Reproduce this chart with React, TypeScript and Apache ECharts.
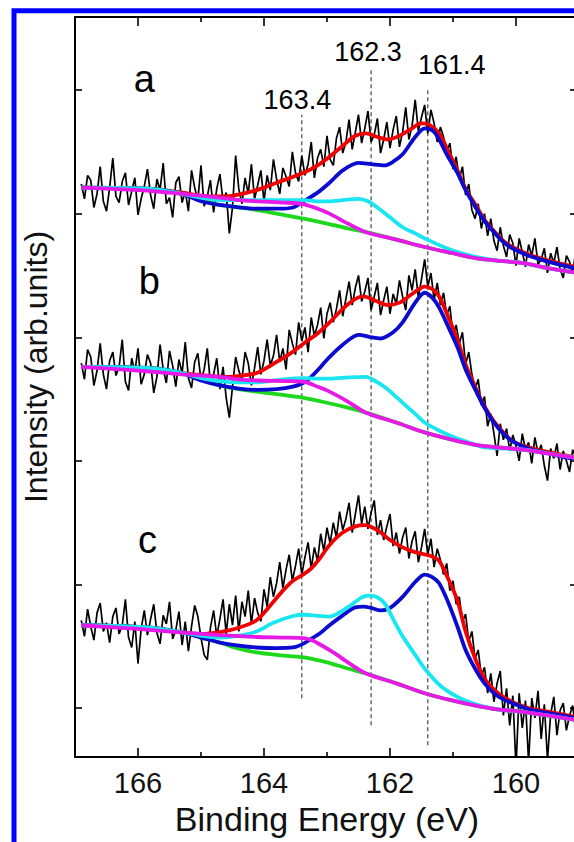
import React, { useEffect, useRef } from "react";
import * as echarts from "echarts";

// Binding energy grid (eV) of the measured spectra
const energies = [166.9,166.85,166.8,166.75,166.7,166.65,166.6,166.55,166.5,166.45,166.4,166.35,166.3,166.25,166.2,166.15,166.1,166.05,166,165.95,165.9,165.85,165.8,165.75,165.7,165.65,165.6,165.55,165.5,165.45,165.4,165.35,165.3,165.25,165.2,165.15,165.1,165.05,165,164.95,164.9,164.85,164.8,164.75,164.7,164.65,164.6,164.55,164.5,164.45,164.4,164.35,164.3,164.25,164.2,164.15,164.1,164.05,164,163.95,163.9,163.85,163.8,163.75,163.7,163.65,163.6,163.55,163.5,163.45,163.4,163.35,163.3,163.25,163.2,163.15,163.1,163.05,163,162.95,162.9,162.85,162.8,162.75,162.7,162.65,162.6,162.55,162.5,162.45,162.4,162.35,162.3,162.25,162.2,162.15,162.1,162.05,162,161.95,161.9,161.85,161.8,161.75,161.7,161.65,161.6,161.55,161.5,161.45,161.4,161.35,161.3,161.25,161.2,161.15,161.1,161.05,161,160.95,160.9,160.85,160.8,160.75,160.7,160.65,160.6,160.55,160.5,160.45,160.4,160.35,160.3,160.25,160.2,160.15,160.1,160.05,160,159.95,159.9,159.85,159.8,159.75,159.7,159.65,159.6,159.55,159.5,159.45,159.4,159.35,159.3,159.25,159.2,159.15,159.1,159.05,159];

// Raw (noisy) intensities, offset spectra a, b, c
const aRaw = [4.24,4.12,4.31,4.27,4.05,4.16,4.38,4.10,4.02,4.21,
4.45,4.14,4.09,4.26,4.33,4.07,4.18,4.29,3.99,4.12,
4.22,4.36,4.15,4.04,4.28,4.19,4.41,4.08,4.13,3.97,
4.25,4.30,4.09,4.18,4.02,4.35,4.21,4.11,4.39,4.06,
4.14,4.27,4.01,4.20,4.32,4.10,4.17,3.84,4.05,4.47,
4.20,4.08,4.29,4.16,4.40,4.12,4.23,4.35,4.10,4.31,
4.19,4.44,4.28,4.16,4.37,4.30,4.22,4.50,4.33,4.26,
4.47,4.31,4.40,4.58,4.29,4.45,4.52,4.38,4.63,4.44,
4.39,4.61,4.70,4.49,4.58,4.76,4.52,4.66,4.80,4.57,
4.69,4.83,4.58,4.64,4.77,4.49,4.60,4.74,4.53,4.68,
4.79,4.54,4.66,4.86,4.60,4.71,4.92,4.67,4.78,4.88,
4.65,4.84,4.73,4.58,4.70,4.62,4.50,4.57,4.36,4.46,
4.28,4.38,4.15,4.24,4.03,3.96,4.08,3.88,4.00,3.82,
3.96,3.78,3.70,3.89,3.74,3.65,3.83,3.76,3.58,3.80,
3.69,3.57,3.75,3.66,3.80,3.59,3.63,3.72,3.52,3.68,
3.60,3.73,3.55,3.48,3.66,3.61,3.52,3.70,3.57];

const bRaw = [2.79,2.66,2.90,2.84,2.61,2.73,2.95,2.70,2.58,2.81,
2.88,2.69,2.76,2.98,2.64,2.57,2.83,2.72,2.91,2.62,
2.70,2.86,2.79,2.55,2.68,2.94,2.74,2.63,2.89,2.77,
2.60,2.82,2.71,2.96,2.67,2.59,2.80,2.87,2.65,2.74,
2.91,2.62,2.70,2.83,2.58,2.76,2.51,2.35,2.60,2.84,
2.73,2.66,2.88,2.79,2.61,2.75,2.92,2.70,2.81,2.98,
2.77,2.85,3.02,2.80,2.91,2.74,3.06,2.95,2.86,3.12,
2.97,3.08,2.88,3.16,3.01,3.10,3.24,2.99,3.19,3.28,
3.12,3.23,3.38,3.17,3.31,3.45,3.26,3.40,3.50,3.29,
3.37,3.48,3.22,3.33,3.44,3.18,3.30,3.41,3.19,3.35,
3.27,3.46,3.33,3.22,3.50,3.38,3.55,3.32,3.47,3.63,
3.41,3.52,3.30,3.44,3.26,3.36,3.18,3.25,3.02,3.10,
2.95,3.04,2.78,2.88,2.70,2.58,2.66,2.45,2.52,2.28,
2.38,2.22,2.04,2.30,2.17,2.26,2.08,2.21,2.12,2.00,
2.22,2.09,2.15,1.98,2.19,2.06,2.13,1.96,1.84,2.10,
2.02,2.14,1.93,2.08,2.00,1.91,2.09,2.03,1.94];

const cRaw = [0.71,0.58,0.80,0.66,0.55,0.77,0.85,0.62,0.69,0.53,
0.74,0.81,0.60,0.67,0.88,0.57,0.49,0.70,0.36,0.64,
0.79,0.59,0.72,0.84,0.61,0.52,0.75,0.68,0.86,0.56,
0.63,0.78,0.51,0.70,0.46,0.66,0.83,0.74,0.57,0.43,
0.39,0.65,0.79,0.58,0.72,0.88,0.60,0.84,0.67,0.91,
0.62,0.86,0.74,0.95,0.68,0.89,0.77,0.70,0.96,0.82,
1.06,0.90,1.01,1.18,0.97,1.12,1.24,1.03,1.15,1.29,
1.08,1.22,1.34,1.13,1.30,1.19,1.41,1.27,1.46,1.33,
1.50,1.38,1.59,1.44,1.53,1.66,1.42,1.57,1.72,1.49,
1.63,1.45,1.58,1.68,1.40,1.52,1.36,1.47,1.57,1.31,
1.42,1.25,1.38,1.46,1.21,1.35,1.43,1.18,1.30,1.45,
1.24,1.37,1.14,1.29,1.20,1.08,1.17,0.95,1.03,0.84,
0.90,0.70,0.76,0.54,0.62,0.40,0.47,0.26,0.33,0.12,
0.28,0.05,0.20,0.30,-0.06,0.16,-0.14,0.10,-0.48,0.12,
-0.16,0.06,-0.44,0.08,-0.08,0.14,-0.25,0.03,-0.42,-0.05,
0.09,-0.22,-0.02,0.04,-0.18,-0.06,0.02,-0.20,-0.10];

// Fitted curves [energy, intensity]
const aGreen = [[166.9,4.21],[165.8,4.20],[165.3,4.16],[165.0,4.11],[164.7,4.07],[164.4,4.05],[164.12,4.03],[163.8,4.00],[163.37,3.96],[163.0,3.92],[162.67,3.88],[162.38,3.85],[161.9,3.79],[161.45,3.73],[161.0,3.68],[160.64,3.64],[160.3,3.62],[159.88,3.60],[159.5,3.56],[159.0,3.52]];
const aMagenta = [[166.9,4.21],[166.0,4.19],[165.5,4.17],[165.1,4.15],[164.7,4.13],[164.4,4.11],[164.1,4.10],[163.7,4.09],[163.4,4.08],[163.2,4.05],[162.96,4.0],[162.67,3.92],[162.38,3.85],[161.9,3.79],[161.45,3.73],[161.0,3.68],[160.64,3.64],[160.3,3.62],[159.88,3.60],[159.5,3.56],[159.0,3.52]];
const aCyan = [[166.9,4.21],[165.8,4.20],[165.3,4.16],[165.0,4.13],[164.7,4.11],[164.4,4.11],[164.12,4.11],[163.7,4.11],[163.37,4.11],[163.15,4.10],[162.96,4.10],[162.75,4.11],[162.5,4.12],[162.35,4.10],[162.2,4.05],[162.0,3.97],[161.8,3.89],[161.6,3.84],[161.45,3.80],[161.1,3.72],[160.8,3.67],[160.64,3.65],[160.3,3.62],[159.88,3.60],[159.5,3.56],[159.0,3.52]];
const aBlue = [[166.9,4.21],[165.8,4.20],[165.3,4.16],[165.0,4.10],[164.7,4.07],[164.4,4.05],[164.12,4.04],[163.8,4.04],[163.54,4.05],[163.37,4.10],[163.15,4.17],[162.96,4.25],[162.75,4.35],[162.5,4.41],[162.3,4.40],[162.09,4.39],[161.95,4.42],[161.8,4.48],[161.6,4.62],[161.45,4.69],[161.32,4.67],[161.22,4.60],[161.1,4.48],[160.93,4.33],[160.8,4.19],[160.64,4.05],[160.5,3.94],[160.35,3.85],[160.2,3.77],[160.06,3.72],[159.8,3.66],[159.48,3.61],[159.08,3.56],[159.0,3.55]];
const aRed = [[166.9,4.21],[165.8,4.20],[165.3,4.17],[164.9,4.14],[164.59,4.14],[164.35,4.16],[164.12,4.19],[163.8,4.25],[163.37,4.33],[163.15,4.39],[162.96,4.46],[162.75,4.55],[162.55,4.63],[162.38,4.65],[162.2,4.62],[162.03,4.60],[161.85,4.63],[161.65,4.69],[161.51,4.73],[161.38,4.72],[161.22,4.65],[161.1,4.53],[160.93,4.35],[160.8,4.20],[160.64,4.07],[160.5,3.95],[160.35,3.86],[160.2,3.78],[160.06,3.73],[159.8,3.67],[159.48,3.62],[159.08,3.57],[159.0,3.56]];

const bGreen = [[166.9,2.76],[165.8,2.75],[165.3,2.71],[165.0,2.66],[164.7,2.61],[164.4,2.58],[164.12,2.56],[163.8,2.54],[163.37,2.51],[163.0,2.47],[162.67,2.43],[162.38,2.39],[161.9,2.31],[161.45,2.23],[161.0,2.17],[160.64,2.13],[160.3,2.11],[159.88,2.09],[159.5,2.06],[159.0,2.02]];
const bMagenta = [[166.9,2.76],[166.0,2.73],[165.3,2.70],[164.7,2.68],[164.4,2.66],[164.1,2.65],[163.7,2.645],[163.37,2.64],[163.15,2.60],[162.96,2.56],[162.67,2.48],[162.38,2.39],[161.9,2.31],[161.45,2.23],[161.0,2.17],[160.64,2.13],[160.3,2.11],[159.88,2.09],[159.5,2.06],[159.0,2.02]];
const bCyan = [[166.9,2.76],[165.8,2.75],[165.3,2.71],[165.0,2.67],[164.7,2.645],[164.4,2.635],[164.12,2.635],[163.7,2.66],[163.37,2.67],[163.15,2.665],[162.96,2.665],[162.65,2.675],[162.38,2.68],[162.25,2.65],[162.09,2.60],[161.95,2.54],[161.8,2.47],[161.6,2.38],[161.45,2.31],[161.2,2.24],[160.93,2.18],[160.7,2.14],[160.5,2.11],[159.88,2.09],[159.5,2.06],[159.0,2.02]];
const bBlue = [[166.9,2.76],[165.8,2.75],[165.3,2.71],[165.0,2.65],[164.7,2.61],[164.4,2.585],[164.12,2.575],[163.8,2.58],[163.54,2.60],[163.38,2.63],[163.25,2.68],[163.1,2.76],[162.96,2.84],[162.75,2.94],[162.5,3.02],[162.3,3.00],[162.15,2.99],[161.95,3.04],[161.8,3.12],[161.6,3.28],[161.45,3.36],[161.33,3.32],[161.22,3.24],[161.08,3.09],[160.93,2.92],[160.8,2.74],[160.64,2.57],[160.5,2.43],[160.35,2.31],[160.2,2.22],[160.06,2.16],[159.8,2.10],[159.48,2.06],[159.08,2.02],[159.0,2.02]];
const bRed = [[166.9,2.76],[165.8,2.75],[165.3,2.71],[164.9,2.69],[164.59,2.68],[164.35,2.69],[164.12,2.71],[163.8,2.80],[163.55,2.88],[163.37,2.95],[163.15,3.03],[162.96,3.12],[162.75,3.23],[162.55,3.31],[162.42,3.33],[162.25,3.30],[162.03,3.26],[161.85,3.28],[161.65,3.35],[161.45,3.41],[161.33,3.39],[161.22,3.33],[161.08,3.17],[160.93,2.98],[160.8,2.78],[160.64,2.59],[160.5,2.44],[160.35,2.32],[160.2,2.23],[160.06,2.16],[159.8,2.11],[159.48,2.07],[159.08,2.03],[159.0,2.02]];

const cGreen = [[166.9,0.67],[165.8,0.65],[165.28,0.61],[165.0,0.57],[164.7,0.53],[164.4,0.48],[164.12,0.45],[163.8,0.43],[163.37,0.41],[163.0,0.37],[162.67,0.32],[162.38,0.28],[161.9,0.20],[161.45,0.12],[161.0,0.06],[160.64,0.02],[160.3,-0.01],[159.88,-0.03],[159.5,-0.06],[159.0,-0.10]];
const cMagenta = [[166.9,0.67],[166.0,0.64],[165.28,0.61],[164.7,0.59],[164.12,0.575],[163.7,0.57],[163.37,0.565],[163.25,0.55],[163.13,0.52],[162.9,0.45],[162.67,0.37],[162.38,0.28],[161.9,0.20],[161.45,0.12],[161.0,0.06],[160.64,0.02],[160.3,-0.01],[159.88,-0.03],[159.5,-0.06],[159.0,-0.10]];
const cCyan = [[166.9,0.67],[165.8,0.65],[165.28,0.61],[165.0,0.585],[164.7,0.57],[164.4,0.585],[164.12,0.62],[163.85,0.69],[163.54,0.745],[163.35,0.755],[163.15,0.745],[162.96,0.74],[162.78,0.78],[162.6,0.84],[162.45,0.895],[162.35,0.91],[162.22,0.90],[162.09,0.85],[161.95,0.72],[161.8,0.58],[161.6,0.43],[161.45,0.32],[161.2,0.18],[160.93,0.09],[160.64,0.03],[160.3,-0.01],[159.88,-0.03],[159.5,-0.06],[159.0,-0.10]];
const cBlue = [[166.9,0.67],[165.8,0.65],[165.28,0.61],[165.0,0.57],[164.7,0.53],[164.4,0.505],[164.12,0.49],[163.8,0.485],[163.54,0.49],[163.38,0.52],[163.25,0.56],[163.1,0.61],[162.96,0.67],[162.75,0.75],[162.55,0.815],[162.42,0.82],[162.3,0.81],[162.15,0.79],[162.0,0.81],[161.8,0.90],[161.6,1.02],[161.45,1.08],[161.33,1.06],[161.22,1.01],[161.08,0.86],[160.93,0.66],[160.8,0.47],[160.64,0.31],[160.5,0.20],[160.35,0.12],[160.2,0.07],[160.06,0.04],[159.8,-0.01],[159.48,-0.04],[159.08,-0.08],[159.0,-0.09]];
const cRed = [[166.9,0.67],[165.8,0.65],[165.28,0.61],[165.0,0.60],[164.7,0.615],[164.4,0.65],[164.12,0.71],[163.85,0.86],[163.7,0.95],[163.54,1.03],[163.38,1.08],[163.25,1.13],[163.1,1.22],[162.96,1.32],[162.75,1.42],[162.55,1.47],[162.4,1.48],[162.2,1.44],[162.0,1.36],[161.8,1.30],[161.65,1.27],[161.51,1.25],[161.35,1.23],[161.22,1.19],[161.08,1.05],[160.93,0.87],[160.8,0.62],[160.64,0.39],[160.5,0.24],[160.35,0.15],[160.2,0.09],[160.06,0.05],[159.8,0.0],[159.48,-0.03],[159.08,-0.07],[159.0,-0.08]];

// Peak reference lines
const peakEnergies = [163.4, 162.3, 161.4];
const peakLineTop = [4.80, 5.16, 5.02];
const peakLineBottom = [0.08, -0.14, -0.30];
const peakLabels = ["163.4", "162.3", "161.4"];
const peakLabelE = [163.47, 162.35, 161.02];
const peakLabelV = [4.92, 5.31, 5.2];

// Panel letters
const panelLabels = ["a", "b", "c"];
const panelLabelE = [165.9, 165.82, 165.85];
const panelLabelV = [5.09, 3.455, 1.36];

// Axis ticks
const xMajorTicks = [160, 162, 164, 166];
const xMinorTicks = [161, 163, 165];
const yTicks = [0, 1, 2, 3, 4, 5];
const X_MIN = 159, X_MAX = 167;
const Y_MIN = -0.396, Y_MAX = 5.591;

const FONT = "'Liberation Sans', Arial, Helvetica, sans-serif";
const TXT = "#111111";

export default function App() {
  const ref = useRef<HTMLDivElement>(null);
  useEffect(() => {
    const chart = echarts.init(ref.current as HTMLDivElement, null, { renderer: "svg" });
    const raw = (ys: number[]) => ys.map((y, i) => [energies[i], y]);

    const fit = (data: number[][], color: string) => ({
      type: "line",
      data,
      showSymbol: false,
      symbol: "none",
      smooth: 0.3,
      lineStyle: { color, width: 3.8 },
      silent: true,
      z: 3,
    });
    const rawSeries = (ys: number[]) => ({
      type: "line",
      data: raw(ys),
      showSymbol: false,
      symbol: "none",
      lineStyle: { color: "#000", width: 1.7 },
      silent: true,
      z: 2,
    });

    const dashed = peakEnergies.map((e, i) => ({
      type: "line",
      data: [[e, peakLineBottom[i]], [e, peakLineTop[i]]],
      showSymbol: false,
      symbol: "none",
      lineStyle: { color: "#333", width: 1.1, type: [4, 3] },
      silent: true,
      z: 1,
    }));

    const spectra = [
      { raw: aRaw, red: aRed, green: aGreen, blue: aBlue, cyan: aCyan, magenta: aMagenta },
      { raw: bRaw, red: bRed, green: bGreen, blue: bBlue, cyan: bCyan, magenta: bMagenta },
      { raw: cRaw, red: cRed, green: cGreen, blue: cBlue, cyan: cCyan, magenta: cMagenta },
    ];
    const specSeries: any[] = [];
    spectra.forEach((s) => {
      specSeries.push(rawSeries(s.raw));
      specSeries.push(fit(s.red, "#f00000"));
      specSeries.push(fit(s.green, "#1ed81e"));
      specSeries.push(fit(s.blue, "#0a0ad0"));
      specSeries.push(fit(s.cyan, "#19e6f0"));
      specSeries.push(fit(s.magenta, "#e619e6"));
    });

    const labelSeries = (names: string[], es: number[], vs: number[], size: number) => ({
      type: "scatter",
      data: names.map((n, i) => ({ name: n, value: [es[i], vs[i]] })),
      symbolSize: 2,
      itemStyle: { color: "rgba(255,255,255,0)", opacity: 1 },
      silent: true,
      z: 5,
      label: {
        show: true,
        position: "inside",
        formatter: "{b}",
        color: "#000",
        opacity: 1,
        fontSize: size,
        fontFamily: FONT,
        textBorderWidth: 0,
      },
    });

    const xBase = {
      type: "value",
      min: X_MIN,
      max: X_MAX,
      interval: 1,
      inverse: true,
      splitLine: { show: false },
    };
    const yBase = {
      type: "value",
      min: Y_MIN,
      max: Y_MAX,
      splitLine: { show: false },
      axisLabel: { show: false },
    };
    const axLine = { show: true, onZero: false, lineStyle: { color: "#000", width: 2 } };
    const noLine = { show: false, onZero: false };

    chart.setOption({
      animation: false,
      backgroundColor: "#fff",
      grid: { left: 75, right: -5, top: 17, bottom: 85, containLabel: false, outerBoundsMode: "none" },
      xAxis: [
        {
          ...xBase,
          position: "bottom",
          axisLine: axLine,
          axisTick: { show: true, inside: true, length: 9, customValues: xMajorTicks, lineStyle: { color: "#000", width: 1.6 } },
          axisLabel: {
            show: true,
            customValues: xMajorTicks,
            margin: 11,
            fontSize: 29,
            color: TXT,
            fontFamily: FONT,
            formatter: (v: number) => (v % 2 === 0 ? String(v) : ""),
          },
          name: "Binding Energy (eV)",
          nameLocation: "middle",
          nameGap: 43,
          nameTextStyle: { fontSize: 34, color: TXT, fontFamily: FONT },
        },
        {
          ...xBase,
          position: "bottom",
          axisLine: noLine,
          axisTick: { show: true, inside: true, length: 5, customValues: xMinorTicks, lineStyle: { color: "#000", width: 1.6 } },
          axisLabel: { show: false },
        },
        {
          ...xBase,
          position: "top",
          axisLine: axLine,
          axisTick: { show: true, inside: true, length: 9, customValues: xMajorTicks, lineStyle: { color: "#000", width: 1.6 } },
          axisLabel: { show: false },
        },
        {
          ...xBase,
          position: "top",
          axisLine: noLine,
          axisTick: { show: true, inside: true, length: 5, customValues: xMinorTicks, lineStyle: { color: "#000", width: 1.6 } },
          axisLabel: { show: false },
        },
      ],
      yAxis: [
        {
          ...yBase,
          position: "left",
          axisLine: axLine,
          axisTick: { show: true, inside: true, length: 7, customValues: yTicks, lineStyle: { color: "#000", width: 1.6 } },
        },
        {
          ...yBase,
          position: "right",
          axisLine: axLine,
          axisTick: { show: true, inside: true, length: 9, customValues: yTicks, lineStyle: { color: "#000", width: 1.6 } },
        },
      ],
      graphic: [
        {
          type: "rect",
          shape: { x: 14, y: 10.8, width: 700, height: 1000 },
          style: { fill: "transparent", stroke: "#0000ff", lineWidth: 5 },
          silent: true,
          z: 100,
        },
        {
          type: "text",
          x: 36,
          y: 367,
          rotation: Math.PI / 2,
          style: {
            text: "Intensity (arb.units)",
            fontSize: 32,
            fontFamily: FONT,
            fill: TXT,
            align: "center",
            verticalAlign: "middle",
            textAlign: "center",
            textVerticalAlign: "middle",
          },
          silent: true,
        },
      ],
      series: [
        ...dashed,
        ...specSeries,
        labelSeries(peakLabels, peakLabelE, peakLabelV, 27),
        labelSeries(panelLabels, panelLabelE, panelLabelV, 38),
      ],
    });
    return () => chart.dispose();
  }, []);

  return (
    <div
      ref={ref}
      style={{ position: "fixed", left: 0, top: 0, width: 574, height: 842, background: "#fff" }}
    />
  );
}
